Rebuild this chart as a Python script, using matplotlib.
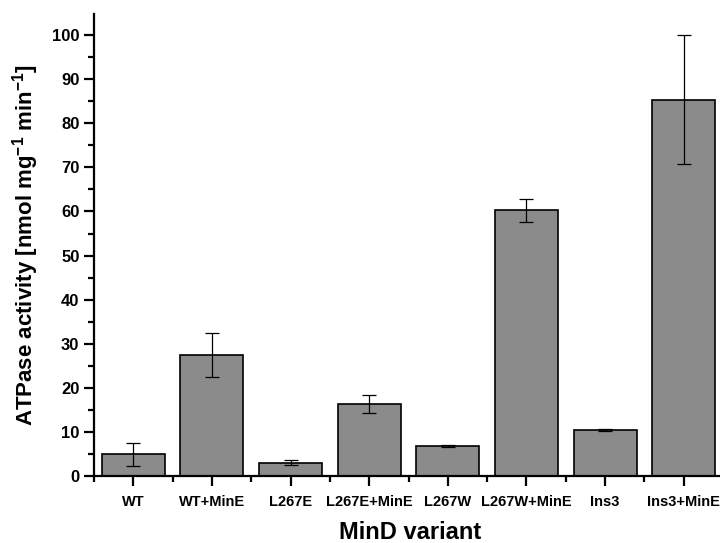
import numpy as np
import matplotlib
matplotlib.use("Agg")
import matplotlib.pyplot as plt
from matplotlib.ticker import MultipleLocator

variants = ["WT", "WT+MinE", "L267E", "L267E+MinE",
            "L267W", "L267W+MinE", "Ins3", "Ins3+MinE"]
activity = [4.9, 27.4, 3.0, 16.4, 6.8, 60.3, 10.5, 85.4]
errors = [2.6, 5.0, 0.6, 2.0, 0.3, 2.6, 0.2, 14.6]

plt.rcParams['font.family'] = ['Liberation Sans', 'DejaVu Sans']
plt.rcParams['font.weight'] = 'bold'
plt.rcParams['mathtext.fontset'] = 'custom'
plt.rcParams['mathtext.rm'] = 'Liberation Sans:bold'
plt.rcParams['mathtext.bf'] = 'Liberation Sans:bold'

fig = plt.figure(figsize=(7.2, 5.43), dpi=100)
# axes run slightly past the right edge, as in the cropped original
ax = fig.add_axes([94 / 720, 67 / 543, 629 / 720, 462 / 543])

x = np.arange(len(variants))
ax.bar(x, activity, width=0.8, color='#8b8b8b', edgecolor='black', linewidth=1.2,
       yerr=errors, error_kw=dict(ecolor='black', elinewidth=0.9, capsize=5, capthick=0.9))

ax.set_xlim(-0.5, 7.5)
ax.set_ylim(0, 104.8)
ax.set_xticks(x)
ax.set_xticklabels(variants)
ax.xaxis.set_minor_locator(MultipleLocator(1, offset=0.5))
ax.yaxis.set_major_locator(MultipleLocator(10))
ax.yaxis.set_minor_locator(MultipleLocator(5))

for side in ['top', 'right']:
    ax.spines[side].set_visible(False)
for side in ['left', 'bottom']:
    ax.spines[side].set_linewidth(1.6)

ax.tick_params(which='major', direction='out', length=7, width=1.6)
ax.tick_params(which='minor', direction='out', length=4, width=1.6)
ax.tick_params(axis='y', which='major', labelsize=12)
ax.tick_params(axis='x', which='major', labelsize=10.5, pad=7)

ax.set_xlabel("MinD variant", fontsize=17, fontweight='bold')
ax.xaxis.set_label_coords(0.503, -0.097)
ax.set_ylabel("ATPase activity [nmol mg$^{\\mathbf{-1}}$ min$^{\\mathbf{-1}}$]",
              fontsize=16, fontweight='bold')
ax.yaxis.set_label_coords(-0.084, 0.5)

fig.savefig("out.png", dpi=100)
